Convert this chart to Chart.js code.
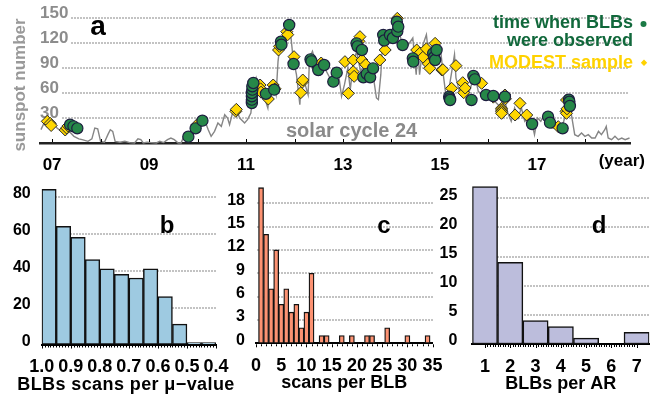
<!DOCTYPE html>
<html><head><meta charset="utf-8">
<script src="https://cdn.jsdelivr.net/npm/chart.js@4/dist/chart.umd.min.js"></script>
<style>
html,body{margin:0;padding:0;background:#fff;}
#wrap{position:relative;width:665px;height:397px;overflow:hidden;}
canvas{position:absolute;left:0;top:0;}
</style></head><body>
<div id="wrap">
<canvas id="ca" width="665" height="397"></canvas>
<canvas id="cb" width="665" height="397"></canvas>
<canvas id="cc" width="665" height="397"></canvas>
<canvas id="cd" width="665" height="397"></canvas>
</div>
<script>
// ---------- Panel a: sunspot number ----------
const ssnYears = [2006.77,2006.85,2006.93,2007.02,2007.10,2007.19,2007.27,2007.35,2007.45,2007.55,2007.62,2007.74,2007.82,2007.88,2007.94,2008.00,2008.08,2008.15,2008.20,2008.25,2008.30,2008.40,2008.50,2008.60,2008.70,2008.77,2008.83,2008.88,2008.96,2009.05,2009.15,2009.22,2009.30,2009.38,2009.45,2009.52,2009.60,2009.66,2009.73,2009.80,2009.87,2009.95,2010.04,2010.13,2010.22,2010.28,2010.35,2010.42,2010.49,2010.56,2010.62,2010.66,2010.73,2010.80,2010.87,2010.97,2011.03,2011.10,2011.14,2011.21,2011.27,2011.35,2011.45,2011.50,2011.57,2011.62,2011.66,2011.70,2011.78,2011.87,2011.93,2011.97,2012.04,2012.11,2012.14,2012.20,2012.28,2012.31,2012.37,2012.45,2012.54,2012.62,2012.73,2012.82,2012.90,2012.97,2013.03,2013.10,2013.15,2013.21,2013.28,2013.31,2013.36,2013.42,2013.48,2013.55,2013.62,2013.69,2013.73,2013.78,2013.82,2013.90,2014.00,2014.10,2014.16,2014.23,2014.30,2014.37,2014.44,2014.51,2014.54,2014.58,2014.65,2014.72,2014.76,2014.82,2014.89,2014.96,2015.02,2015.06,2015.13,2015.20,2015.30,2015.33,2015.40,2015.47,2015.58,2015.65,2015.72,2015.79,2015.86,2015.92,2015.99,2016.06,2016.13,2016.20,2016.27,2016.33,2016.40,2016.47,2016.54,2016.61,2016.68,2016.75,2016.82,2016.89,2016.95,2017.01,2017.08,2017.15,2017.22,2017.30,2017.37,2017.44,2017.50,2017.57,2017.64,2017.70,2017.78,2017.85,2017.92,2017.99,2018.06,2018.13,2018.20,2018.27,2018.33,2018.40,2018.43,2018.47,2018.54,2018.61,2018.68,2018.75,2018.82,2018.91];
const ssnValues = [16,26,22,24,18,14,10,14,8,5,4,2,5,18,17,2,1,10,16,14,2,1,2,0.5,0,5,4,0,1,0.5,0,2,0.5,4,6,4,0,0,10,8,14,20,24,30,16,8,14,24,20,34,30,22,38,40,30,24,28,36,62,78,66,60,42,72,70,58,98,118,128,142,125,102,82,46,78,74,58,102,110,94,82,90,78,80,86,56,70,90,64,94,110,102,86,92,82,74,82,54,52,82,126,130,128,146,132,118,114,120,126,82,114,82,118,130,110,114,102,118,108,86,54,70,106,78,62,70,58,70,82,62,58,62,54,58,50,46,42,52,36,26,42,30,42,26,30,26,10,30,26,34,28,18,18,24,14,30,52,38,10,8,12,8,10,6,6,14,10,16,20,6,4,8,4,6,4,6];

// times when BLBs were observed (year, sunspot number)
const blbYears = [2007.37,2007.44,2007.52,2009.81,2009.96,2010.10,2011.12,2011.12,2011.12,2011.12,2011.13,2011.13,2011.15,2011.41,2011.58,2011.72,2011.73,2011.89,2011.98,2012.33,2012.35,2012.49,2012.61,2012.80,2012.87,2013.28,2013.30,2013.39,2013.42,2013.49,2013.56,2013.62,2013.83,2013.85,2013.97,2014.03,2014.12,2014.11,2014.14,2014.23,2014.44,2014.45,2014.86,2014.88,2014.90,2014.93,2015.19,2015.20,2015.21,2015.65,2015.69,2015.72,2015.95,2016.10,2016.34,2016.90,2017.23,2017.27,2017.53,2017.66,2017.67,2017.68];
const blbSSN   = [22,20,17.6,7.6,17.6,26.8,48,52,56,60,64,68,72,59,64,121.6,118,141.6,94.8,100.4,98,87.6,93.6,73.6,84.4,119.6,116,111.6,78.8,83,78.8,89.6,129.6,123,129.6,126,134,145.6,139.6,117.6,101.6,97.6,107.6,103,99.6,111.6,55.6,53.5,51.6,51.6,80.4,76.4,57.6,56.4,55.6,22.8,31.6,24.4,17.6,52,49.6,44.4];

// MODEST sample (year, sunspot number)
const modestYears = [2006.90,2006.96,2006.98,2007.27,2007.30,2007.33,2009.99,2010.79,2010.80,2011.29,2011.30,2011.31,2011.46,2011.56,2011.60,2011.67,2011.69,2011.84,2011.86,2011.99,2012.13,2012.16,2012.17,2012.40,2012.55,2013.04,2013.11,2013.21,2013.21,2013.23,2013.33,2013.35,2013.39,2013.47,2013.76,2013.87,2014.12,2014.52,2014.59,2014.65,2014.72,2014.76,2014.79,2014.90,2015.04,2015.06,2015.24,2015.33,2015.47,2015.49,2015.52,2015.86,2016.10,2016.27,2016.27,2016.27,2016.27,2016.34,2016.35,2016.55,2016.65,2016.79,2017.44,2017.60,2017.61,2017.61,2017.62];
const modestSSN   = [26,23.6,21,15.6,18,20.5,22,38,40.4,69.6,65,61,52.8,69.6,65,111.6,116,133.6,130,103.6,60.4,73,75.6,96,96,97.6,59.6,99.6,85.6,80,122,127.6,99.6,94,99.6,111.6,149.6,111.6,108,103,113,95,89.6,119.6,87.6,88,65.6,92.8,72.4,60.4,66,71.6,55,41.6,39.6,37.6,35.6,57.6,53,33.6,47.6,33.6,19.6,38,35.6,51.6,41];

const yearTicks = [2007,2009,2011,2013,2015,2017];
const yearTickText = ['07','09','11','13','15','17'];

// ---------- Panel b: BLBs scans per mu-value ----------
const muBins   = [0.975,0.925,0.875,0.825,0.775,0.725,0.675,0.625,0.575,0.525,0.475,0.425];
const muCounts = [84,64,58,46,41,38,36,41,26,11,1,1];

// ---------- Panel c: scans per BLB ----------
const scansPerBlb = [1,2,3,4,5,6,7,8,9,10,11,13,14,17,19,22,23,26,30,34];
const scansCounts = [20,14,7,12,5,7,4,5,2,4,9,1,1,1,1,1,1,2,1,1];

// ---------- Panel d: BLBs per AR ----------
const blbsPerAR = ['1','2','3','4','5','6','7'];
const arCounts  = [27,14,4,3,1,0,2];

// ---------- helpers ----------
const FONT = "'Liberation Sans', Arial, Helvetica, sans-serif";
Chart.defaults.font.family = FONT;
Chart.defaults.font.weight = 'bold';
Chart.defaults.color = '#000';
const pts = (xs, ys) => xs.map((x, i) => ({x: x, y: ys[i]}));
const base = {responsive:false, animation:false, events:[], plugins:{legend:{display:false}, tooltip:{enabled:false}}};

function txt(c, s, size, color, x, y, align, spacing) {
  c.font = 'bold ' + size + 'px ' + FONT;
  c.fillStyle = color; c.textAlign = align || 'left'; c.textBaseline = 'alphabetic';
  if (spacing) { c.letterSpacing = spacing; }
  c.fillText(s, x, y);
  if (spacing) { c.letterSpacing = '0px'; }
}
// horizontal grid lines at the y-scale ticks, made of short dots, drawn just before the datasets
function drawGridDots(chart, skipLabel, color) {
  const sy = chart.scales.y, a = chart.chartArea, c = chart.ctx;
  c.save();
  c.font = 'bold 17px ' + FONT;
  c.fillStyle = color;
  const vals = sy.ticks.map(t => t.value);
  for (let k = 0; k < vals.length; k++) {
    const v = vals[k];
    if (v === 0) continue;
    const y = Math.round(sy.getPixelForValue(v));
    let x0 = Math.round(a.left) + 1;
    if (skipLabel) x0 = Math.round(a.left + c.measureText(String(v)).width + 3);
    for (let x = x0; x < a.right - 1; x += 3) c.fillRect(x, y - 1, 2, 2);
  }
  c.restore();
}
function dotGrid(skipLabel) {
  return {id:'dotGrid' + (skipLabel ? 'A' : 'B'), beforeDatasetsDraw(chart) { drawGridDots(chart, skipLabel, '#c3c3c3'); }};
}
function minorTicks(step, len, majorStep, majorLen) {
  return {id:'minorTicks', afterDraw(chart) {
    const sx = chart.scales.x, c = chart.ctx;
    const lo = Math.min(sx.min, sx.max), hi = Math.max(sx.min, sx.max);
    c.save(); c.strokeStyle = '#000'; c.lineWidth = 1; c.beginPath();
    const n = Math.round((hi - lo) / step);
    for (let i = 0; i <= n; i++) {
      const v = lo + i * step;
      const p = Math.round(sx.getPixelForValue(v)) + 0.5;
      const isMaj = majorStep && Math.abs(v / majorStep - Math.round(v / majorStep)) < 1e-6;
      c.moveTo(p, sx.top + 1); c.lineTo(p, sx.top + 1 + (isMaj ? majorLen : len));
    }
    c.stroke(); c.restore();
  }};
}

// ---------- Panel a ----------
new Chart(document.getElementById('ca'), {
  type: 'scatter',
  data: {datasets: [
    {label:'time when BLBs were observed', data: pts(blbYears, blbSSN), pointStyle:'circle', pointRadius:5.6, backgroundColor:'#268748', borderColor:'#1d1d3f', borderWidth:1.2, order:0, clip:false},
    {label:'MODEST sample', data: pts(modestYears, modestSSN), pointStyle:'rectRot', pointRadius:6, backgroundColor:'#ffd700', borderColor:'#2a2a2a', borderWidth:1, order:1, clip:false},
    {type:'line', label:'sunspot number', data: pts(ssnYears, ssnValues), showLine:true, borderColor:'#858585', borderWidth:1.4, pointRadius:0, tension:0, order:2, clip:false}
  ]},
  options: Object.assign({}, base, {
    layout:{padding:{left:0, right:35, top:18, bottom:0}},
    scales: {
      x: {type:'linear', min:2006.75, max:2018.92,
          afterFit(s){ s.height = 397 - 143; },
          border:{display:true, color:'#222', width:2.5},
          grid:{display:false},
          ticks:{stepSize:1, includeBounds:false, autoSkip:false, maxRotation:0, padding:4, color:'#000', font:{size:17, weight:'bold'},
                 callback(v){ const i = yearTicks.indexOf(Math.round(v)); return (i >= 0 && Math.abs(v - Math.round(v)) < 1e-6) ? yearTickText[i] : ''; }}},
      y: {min:0, max:150,
          afterFit(s){ s.width = 40; },
          border:{display:false},
          grid:{display:false},
          ticks:{stepSize:30, mirror:true, padding:0, labelOffset:-5, color:'#8c8c8c', font:{size:17, weight:'bold'},
                 callback(v){ return v === 0 ? '' : String(v); }}}
    }
  }),
  plugins: [dotGrid(true), {id:'annA', afterDraw(chart) {
    const c = chart.ctx, sx = chart.scales.x;
    c.save();
    c.strokeStyle = '#000'; c.lineWidth = 1; c.beginPath();
    for (let yv = 2007; yv <= 2018; yv++) { const p = Math.round(sx.getPixelForValue(yv)) + 0.5; c.moveTo(p, sx.top - 1); c.lineTo(p, sx.top - 4); }
    c.stroke();
    txt(c, 'a', 28, '#000', 98, 35, 'center');
    txt(c, 'solar cycle 24', 20, '#8a8a8a', 286, 137, 'left');
    txt(c, '(year)', 17, '#000', 645, 166, 'right');
    txt(c, 'time when BLBs', 18, '#11683b', 633, 28, 'right');
    txt(c, 'were observed', 18, '#11683b', 633, 46, 'right');
    txt(c, 'MODEST sample', 18, '#ffd200', 633, 68, 'right');
    c.fillStyle = '#1b7a45'; c.beginPath(); c.arc(643.5, 24, 3, 0, Math.PI * 2); c.fill();
    c.fillStyle = '#ffd200'; c.beginPath(); c.moveTo(644, 59.5); c.lineTo(647.2, 62.7); c.lineTo(644, 65.9); c.lineTo(640.8, 62.7); c.closePath(); c.fill();
    c.save(); c.translate(25, 85); c.rotate(-Math.PI / 2);
    c.font = 'bold 17px ' + FONT; c.fillStyle = '#999'; c.textAlign = 'center'; c.textBaseline = 'alphabetic';
    c.fillText('sunspot number', 0, 0); c.restore();
    c.restore();
  }}]
});

// ---------- Panel b ----------
new Chart(document.getElementById('cb'), {
  type: 'bar',
  data: {datasets: [{data: pts(muBins, muCounts), backgroundColor:'#9ecae1', borderColor:'#111', borderWidth:1.5, borderSkipped:false, barPercentage:1, categoryPercentage:1}]},
  options: Object.assign({}, base, {
    layout:{padding:{left:0, right:449, top:185.6, bottom:0}},
    scales: {
      x: {type:'linear', reverse:true, min:0.4, max:1.0, offset:false,
          afterFit(s){ s.height = 397 - 344.5; },
          border:{display:true, color:'#000', width:2},
          grid:{display:false},
          ticks:{stepSize:0.1, includeBounds:false, autoSkip:false, maxRotation:0, padding:4, font:{size:18, weight:'bold'}, color:'#000',
                 callback(v){ return Number(v).toFixed(1); }}},
      y: {min:0, max:86,
          afterFit(s){ s.width = 41.7; },
          border:{display:false},
          grid:{display:false},
          ticks:{stepSize:10, includeBounds:false, padding:3, labelOffset:-3, font:{size:16, weight:'bold'}, color:'#000'}}
    }
  }),
  plugins: [dotGrid(false), minorTicks(0.01, 2, 0.1, 3), {id:'annB', afterDraw(chart){
    txt(chart.ctx, 'b', 24, '#000', 167, 233, 'center');
    txt(chart.ctx, 'BLBs scans per \u03bc\u2212value', 18, '#000', 126, 390, 'center', '0.4px');
  }}]
});

// ---------- Panel c ----------
new Chart(document.getElementById('cc'), {
  type: 'bar',
  data: {datasets: [{data: pts(scansPerBlb, scansCounts), backgroundColor:'#fc9272', borderColor:'#111', borderWidth:1.3, borderSkipped:false, barPercentage:1, categoryPercentage:1}]},
  options: Object.assign({}, base, {
    layout:{padding:{left:0, right:232.4, top:183.8, bottom:0}},
    scales: {
      x: {type:'linear', min:0, max:35, offset:false,
          afterFit(s){ s.height = 397 - 343.3; },
          border:{display:true, color:'#000', width:2},
          grid:{display:false},
          title:{display:true, text:'scans per BLB', font:{size:18, weight:'bold'}, color:'#000', padding:{top:0, bottom:3.5}},
          ticks:{stepSize:5, includeBounds:false, autoSkip:false, maxRotation:0, padding:4, font:{size:18, weight:'bold'}, color:'#000'}},
      y: {min:0, max:20.5,
          afterFit(s){ s.width = 256; },
          border:{display:false},
          grid:{display:false},
          ticks:{stepSize:3, includeBounds:false, padding:3, labelOffset:-3, font:{size:16, weight:'bold'}, color:'#000'}}
    }
  }),
  plugins: [dotGrid(false), minorTicks(1, 2, 5, 3), {id:'annC', afterDraw(chart){ txt(chart.ctx, 'c', 24, '#000', 384, 233, 'center'); }}]
});

// ---------- Panel d ----------
new Chart(document.getElementById('cd'), {
  type: 'bar',
  data: {labels: blbsPerAR, datasets: [{data: arCounts, backgroundColor:'#bcbddc', borderColor:'#111', borderWidth:1.5, borderSkipped:false, barPercentage:1, categoryPercentage:1}]},
  options: Object.assign({}, base, {
    layout:{padding:{left:0, right:15.7, top:180.7, bottom:0}},
    scales: {
      x: {type:'category', offset:true,
          afterFit(s){ s.height = 397 - 344; },
          border:{display:true, color:'#000', width:2},
          grid:{display:false},
          title:{display:true, text:'BLBs per AR', font:{size:18, weight:'bold'}, color:'#000', padding:{top:0, bottom:2.4}},
          ticks:{autoSkip:false, maxRotation:0, padding:4, font:{size:18, weight:'bold'}, color:'#000'}},
      y: {min:0, max:28,
          afterFit(s){ s.width = 472.3; },
          border:{display:false},
          grid:{display:false},
          ticks:{stepSize:5, includeBounds:false, padding:7, labelOffset:-3, font:{size:16, weight:'bold'}, color:'#000'}}
    }
  }),
  plugins: [dotGrid(false), minorTicks(0.1, 2, 1, 3), {id:'annD', afterDraw(chart){ txt(chart.ctx, 'd', 24, '#000', 599, 233, 'center'); }}]
});
</script>
</body></html>
